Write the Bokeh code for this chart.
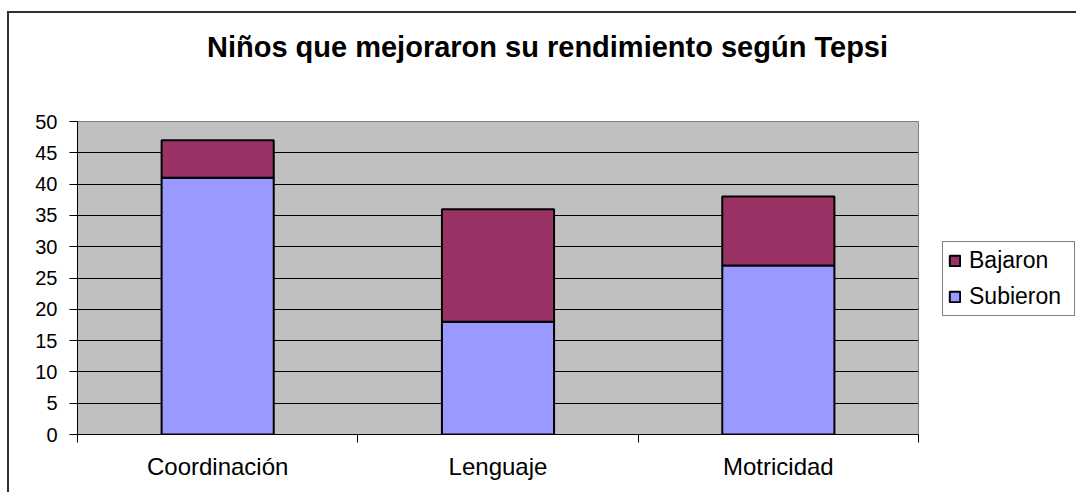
from bokeh.plotting import figure
from bokeh.layouts import row, column
from bokeh.models import (ColumnDataSource, FixedTicker, Range1d, Legend,
                          LegendItem, LinearAxis, Label)
from bokeh.embed import file_html
from bokeh.resources import INLINE

# ---- data ----
categories = ["Coordinación", "Lenguaje", "Motricidad"]
subieron = [41, 18, 27]
bajaron = [6, 18, 11]
series_names = ["Bajaron", "Subieron"]
y_ticks = [0, 5, 10, 15, 20, 25, 30, 35, 40, 45, 50]
grid_ticks = [5, 10, 15, 20, 25, 30, 35, 40, 45]
title_text = "Niños que mejoraron su rendimiento según Tepsi"

FONT = "Liberation Sans"
SUB_COLOR = "#9999FF"
BAJ_COLOR = "#993366"

pos = [i + 0.5 for i in range(len(categories))]
tops = [s + b for s, b in zip(subieron, bajaron)]
src = ColumnDataSource(dict(x=pos, sub=subieron, baj=bajaron, top=tops,
                            zero=[0] * len(pos)))

# ---------- title strip ----------
TW, TH = 1067, 80
tfig = figure(width=TW, height=TH, output_backend="svg", toolbar_location=None,
              x_range=Range1d(0, TW), y_range=Range1d(0, TH),
              min_border=0, x_axis_location=None, y_axis_location=None)
tfig.outline_line_color = None
tfig.xgrid.grid_line_color = None
tfig.ygrid.grid_line_color = None
tfig.background_fill_color = "white"
tfig.add_layout(Label(x=538, y=47, text=title_text, text_align="center",
                      text_baseline="alphabetic", text_font=FONT,
                      text_font_size="29px", text_font_style="bold",
                      text_color="black"))

# ---------- main chart ----------
p = figure(frame_width=841, frame_height=313, output_backend="svg",
           toolbar_location=None,
           x_range=Range1d(0, len(categories)), y_range=Range1d(0, 50),
           min_border_left=68, min_border_right=1, min_border_top=28,
           min_border_bottom=58, x_axis_location=None, y_axis_location=None)

p.background_fill_color = "#C0C0C0"
p.border_fill_color = "white"
p.outline_line_color = "#808080"
p.outline_line_width = 1

r_sub = p.vbar(x="x", bottom="zero", top="sub", width=0.4, source=src,
               fill_color=SUB_COLOR, line_color="black", line_width=2)
r_baj = p.vbar(x="x", bottom="sub", top="top", width=0.4, source=src,
               fill_color=BAJ_COLOR, line_color="black", line_width=2)

yax = LinearAxis(ticker=FixedTicker(ticks=y_ticks))
yax.axis_line_color = "black"
yax.axis_line_width = 1
yax.major_tick_out = 8
yax.major_tick_in = 0
yax.minor_tick_line_color = None
yax.major_label_standoff = 12
yax.major_label_text_font = FONT
yax.major_label_text_font_size = "20px"
yax.major_label_text_color = "black"
p.add_layout(yax, "left")

xax = LinearAxis(ticker=FixedTicker(ticks=pos, minor_ticks=[0, 1, 2, 3]))
xax.major_label_overrides = {pv: c for pv, c in zip(pos, categories)}
xax.axis_line_color = "black"
xax.major_tick_out = 0
xax.major_tick_in = 0
xax.minor_tick_out = 8
xax.minor_tick_in = 0
xax.minor_tick_line_color = "black"
xax.major_label_standoff = 10
xax.major_label_text_font = FONT
xax.major_label_text_font_size = "24px"
xax.major_label_text_color = "black"
p.add_layout(xax, "below")

p.ygrid.ticker = FixedTicker(ticks=grid_ticks)
p.ygrid.grid_line_color = "black"
p.ygrid.grid_line_width = 1
p.xgrid.grid_line_color = None

# ---------- legend strip ----------
# hidden copies of the bars; only their legend entries are shown
LW, LH = 156, 399
lfig = figure(width=LW, height=LH, output_backend="svg", toolbar_location=None,
              x_range=Range1d(10, 11), y_range=Range1d(0, 50),
              min_border=0, x_axis_location=None, y_axis_location=None)
lfig.outline_line_color = None
lfig.xgrid.grid_line_color = None
lfig.ygrid.grid_line_color = None
lb = lfig.vbar(x="x", bottom="sub", top="top", width=0.4, source=src,
               fill_color=BAJ_COLOR, line_color="black", line_width=2,
               visible=False)
ls = lfig.vbar(x="x", bottom="zero", top="sub", width=0.4, source=src,
               fill_color=SUB_COLOR, line_color="black", line_width=2,
               visible=False)

legend = Legend(items=[LegendItem(label=series_names[0], renderers=[lb]),
                       LegendItem(label=series_names[1], renderers=[ls])],
                location=(23, 118), orientation="vertical")
legend.click_policy = "none"
legend.label_text_font = FONT
legend.label_text_font_size = "23px"
legend.label_text_color = "black"
legend.glyph_width = 13
legend.glyph_height = 13
legend.label_height = 24
legend.label_width = 100
legend.label_standoff = 8
legend.spacing = 9
legend.padding = 5
legend.margin = 0
legend.border_line_color = "black"
legend.border_line_width = 1
legend.background_fill_color = "white"
legend.background_fill_alpha = 1
lfig.add_layout(legend, "center")

layout = column(tfig, row(p, lfig, spacing=0), spacing=0,
                styles={"border-top": "2px solid #303030",
                        "border-left": "2px solid #303030",
                        "margin-left": "7px", "margin-top": "11px"})

open("out.html", "w").write(file_html(layout, INLINE))
